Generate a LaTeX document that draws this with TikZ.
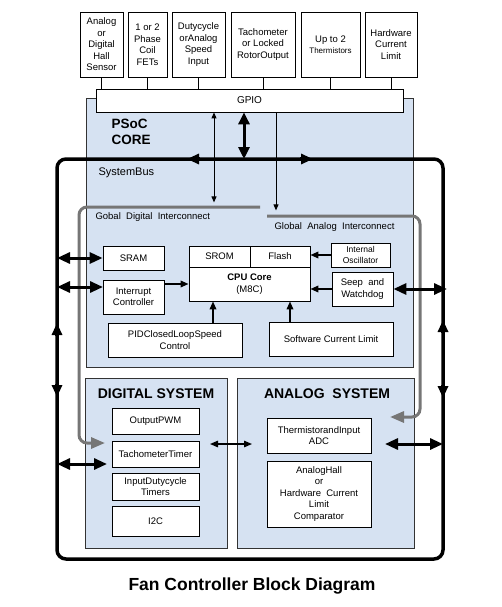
\documentclass[tikz,border=0pt]{standalone}
\usepackage{fontspec}
\setmainfont{Liberation Sans}
\usetikzlibrary{positioning,arrows.meta,calc}
\definecolor{psocblue}{RGB}{214,226,242}
\definecolor{icgray}{RGB}{118,118,118}
\tikzset{
  blk/.style={draw, line width=0.8pt, fill=white, align=center, inner sep=0pt,
    font=\fontsize{9.5}{11.5}\selectfont},
  topbox/.style={blk, minimum height=65pt},
  region/.style={draw=black!80, line width=0.8pt, fill=psocblue},
  bus/.style={line width=3.5pt, rounded corners=9pt},
  busarr/.style={line width=3.5pt, -{Triangle[length=12pt,width=10pt]}},
  bigarr/.style={line width=3pt, {Triangle[length=13pt,width=11pt]}-{Triangle[length=13pt,width=11pt]}},
  medarr/.style={line width=1.8pt, -{Triangle[length=8pt,width=6.5pt]}},
  thinarr/.style={line width=0.9pt, -{Triangle[length=6pt,width=5pt]}},
  thindbl/.style={line width=0.9pt, {Triangle[length=6pt,width=5pt]}-{Triangle[length=6pt,width=5pt]}},
  icline/.style={draw=icgray, line width=3pt, rounded corners=8pt, -{Triangle[length=14pt,width=11pt]}},
  systitle/.style={font=\bfseries\fontsize{14}{16}\selectfont},
  lbl/.style={anchor=west, font=\fontsize{9.5}{11}\selectfont}
}
\begin{document}
\begin{tikzpicture}[x=1pt,y=-1pt]
  \useasboundingbox (0,0) rectangle (501,607);
  %\draw[step=50,black,very thin] (0,0) grid (501,607);
  % blue regions
  \draw[region] (86,98) rectangle (413,367);
  \draw[region] (85,378) rectangle (227,548);
  \draw[region] (237,378) rectangle (414,548);

  % system bus loop
  \coordinate (busL) at (57,159);
  \coordinate (busR) at (443,159);
  \draw[bus] (busL) rectangle (443,559);
  \draw[busarr] (200,159) -- (187,159);
  \draw[busarr] (300,159) -- (313,159);
  \draw[busarr] (57,336) -- (57,323);
  \draw[busarr] (57,384) -- (57,397);
  \draw[busarr] (443,333) -- (443,320);
  \draw[busarr] (443,385) -- (443,398);

  % interconnects
  \draw[icline] (260,207) -- (79,207) -- (79,443) -- (105,443);
  \draw[icline] (267,216) -- (420,216) -- (420,417) -- (390,417);

  % inputs
  \node[topbox, minimum width=43pt] (inhall) at (101.5,44.5) {Analog\\or\\Digital\\Hall\\Sensor};
  \node[topbox, minimum width=39pt] (infet) at (147.5,44.5) {1 or 2\\Phase\\Coil\\FETs};
  \node[topbox, minimum width=53pt] (induty) at (198.5,44.5) {Dutycycle\\orAnalog\\Speed\\Input};
  \node[topbox, minimum width=64pt] (intach) at (263,44.5) {Tachometer\\or Locked\\RotorOutput};
  \node[topbox, minimum width=59pt] (intherm) at (330.5,44.5) {Up to 2\\{\fontsize{8}{10}\selectfont Thermistors}};
  \node[topbox, minimum width=52pt] (inlimit) at (391,44.5) {Hardware\\Current\\Limit};
  \node[blk, minimum width=307pt, minimum height=23pt, font=\fontsize{10}{12}\selectfont] (gpio) at (249.5,100.5) {GPIO};
  \foreach \b in {inhall,infet,induty,intach,intherm,inlimit}
    \draw[line width=0.8pt] (\b.south) -- (\b.south |- gpio.north);

  % core
  \node[anchor=west, align=left, font=\bfseries\fontsize{13.5}{16}\selectfont] (core) at (108,132) {PSoC\\CORE};
  \node[anchor=west, font=\fontsize{11}{13}\selectfont] (sbus) at (95,173) {SystemBus};
  \node[lbl] (gdi) at (92,217) {Gobal\ \ Digital\ \ Interconnect};
  \node[lbl] (gai) at (271,227) {Global\ \ Analog\ \ Interconnect};
  \draw[thindbl] ([xshift=-35.5pt]gpio.south) -- ++(0,90);
  \draw[line width=3pt, {Triangle[length=12pt,width=11pt]}-{Triangle[length=12pt,width=11pt]}] ([xshift=-5.5pt]gpio.south) -- ([xshift=-5.5pt]gpio.south |- busL);
  \draw[thinarr] ([xshift=26.5pt]gpio.south) -- ++(0,98);

  \node[blk, minimum width=61pt, minimum height=24pt] (sram) at (133.5,258) {SRAM};
  \node[blk, minimum width=61pt, minimum height=34pt] (intr) at (133.5,297) {Interrupt\\Controller};
  \node[blk, minimum width=61pt, minimum height=21pt] (srom) at (219.5,256.5) {SROM};
  \node[blk, minimum width=60pt, minimum height=21pt] (flash) at (280,256.5) {Flash};
  \node[blk, minimum width=121pt, minimum height=34pt] (cpu) at (249.5,284) {\textbf{CPU Core}\\(M8C)};
  \node[blk, minimum width=59pt, minimum height=24pt, font=\fontsize{8.5}{10.5}\selectfont] (osc) at (360.5,255) {Internal\\Oscillator};
  \node[blk, minimum width=61pt, minimum height=34pt] (sleep) at (362.5,289) {Seep\ \ and\\Watchdog};
  \node[blk, minimum width=134pt, minimum height=34pt] (pid) at (175,340) {PIDClosedLoopSpeed\\Control};
  \node[blk, minimum width=124pt, minimum height=34pt] (swcl) at (331,339) {Software Current Limit};

  \draw[medarr] (intr.east |- cpu.west) -- (cpu.west);
  \draw[medarr] (osc.west) -- (osc.west -| flash.east);
  \draw[medarr] (sleep.west) -- (sleep.west -| cpu.east);
  \draw[medarr] ([xshift=-36.5pt]cpu.south |- pid.north) -- ([xshift=-36.5pt]cpu.south);
  \draw[medarr] ([xshift=40.5pt]cpu.south |- swcl.north) -- ([xshift=40.5pt]cpu.south);

  \coordinate (irq) at (103,287);
  \draw[bigarr] (busL |- sram.west) -- (sram.west);
  \draw[bigarr] (busL |- irq) -- (irq);
  \draw[bigarr] (sleep.east) -- ([xshift=4pt]busR |- sleep.east);

  % digital system
  \node[systitle] (dtitle) at (156,394) {DIGITAL SYSTEM};
  \node[blk, minimum width=87pt, minimum height=26pt] (pwm) at (155.5,421) {OutputPWM};
  \node[blk, minimum width=87pt, minimum height=26pt] (tach) at (155.5,454) {TachometerTimer};
  \node[blk, minimum width=87pt, minimum height=27pt] (duty) at (155.5,486.5) {InputDutycycle\\Timers};
  \node[blk, minimum width=87pt, minimum height=30pt] (itwoc) at (155.5,521) {I2C};

  % analog system
  \node[systitle] (atitle) at (327,394) {ANALOG\ \ SYSTEM};
  \node[blk, minimum width=104pt, minimum height=35pt] (adc) at (319,435.5) {ThermistorandInput\\ADC};
  \node[blk, minimum width=104pt, minimum height=66pt] (hall) at (319,494) {AnalogHall\\or\\Hardware\ \ Current\\Limit\\Comparator};

  \coordinate (tachin) at (107,464);
  \coordinate (adcout) at (385,444);
  \draw[bigarr] (busL |- tachin) -- (tachin);
  \draw[bigarr] (adcout) -- (busR |- adcout);
  \draw[line width=1.4pt, {Triangle[length=8pt,width=6.5pt]}-{Triangle[length=8pt,width=6.5pt]}] (210,444) -- (252,444);

  \node[font=\bfseries\fontsize{17.5}{20}\selectfont] (title) at (252,586) {Fan Controller Block Diagram};
\end{tikzpicture}
\end{document}
